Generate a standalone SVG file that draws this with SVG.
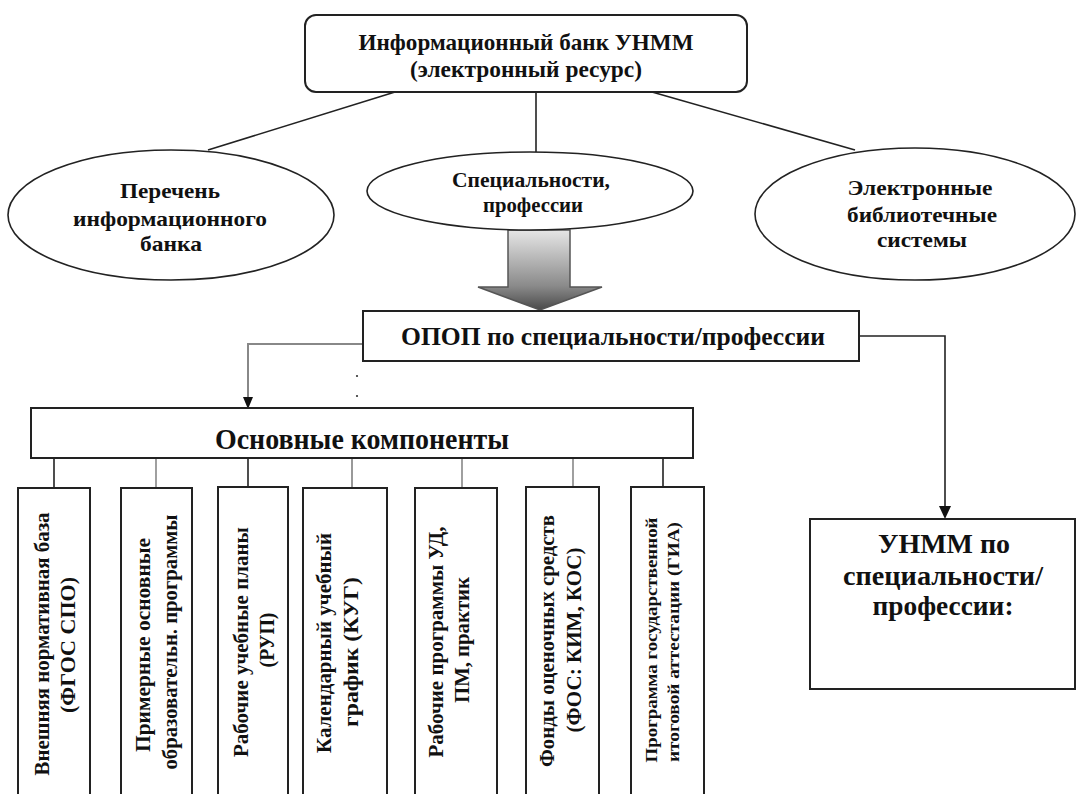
<svg xmlns="http://www.w3.org/2000/svg" width="1078" height="794" viewBox="0 0 1078 794">
<style>
text{font-family:"Liberation Serif","Times New Roman",serif;font-weight:bold;fill:#111;text-anchor:middle}
.box{fill:#fff;stroke:#222;stroke-width:2}
.ell{fill:#fff;stroke:#222;stroke-width:1.6}
.ln{fill:none;stroke:#222;stroke-width:1.6}
.gr{fill:none;stroke:#888;stroke-width:2}
.t22{font-size:22px}
.v{font-size:20px}
.v7{font-size:17px}
</style>
<defs>
<linearGradient id="ag" x1="0" y1="230" x2="0" y2="310" gradientUnits="userSpaceOnUse">
<stop offset="0" stop-color="#e6e6e6"/>
<stop offset="0.7" stop-color="#8a8a8a"/>
<stop offset="1" stop-color="#4a4a4a"/>
</linearGradient>
</defs>
<rect width="1078" height="794" fill="#fff"/>

<g id="connectors">
<line class="ln" x1="395" y1="92" x2="208" y2="150"/>
<line class="ln" x1="536" y1="92" x2="536" y2="152"/>
<line class="ln" x1="652" y1="92" x2="855" y2="150"/>
<path d="M508,230 H570 V287 H602 L540,310 L478,287 H508 Z" fill="url(#ag)" stroke="#555" stroke-width="1.5"/>
<path class="gr" d="M363,344 H248 V400"/>
<path d="M243,397 L253,397 L248,409 Z" fill="#111"/>
<path class="ln" d="M859,336 H945 V509"/>
<path d="M939,506 L951,506 L945,519 Z" fill="#111"/>
<line x1="54" y1="458" x2="54" y2="488" stroke="#222" stroke-width="1.6"/>
<line x1="156" y1="458" x2="156" y2="488" stroke="#888" stroke-width="1.6"/>
<line x1="248" y1="458" x2="248" y2="487" stroke="#222" stroke-width="1.6"/>
<line x1="352" y1="458" x2="352" y2="488" stroke="#999" stroke-width="2"/>
<line x1="462" y1="458" x2="462" y2="488" stroke="#888" stroke-width="1.6"/>
<line x1="573" y1="458" x2="573" y2="487" stroke="#888" stroke-width="1.6"/>
<line x1="663" y1="458" x2="663" y2="487" stroke="#222" stroke-width="1.6"/>
<circle cx="357" cy="376" r="1.1" fill="#333"/>
<circle cx="357" cy="396" r="1.1" fill="#333"/>
</g>

<g id="bank">
<rect class="box" x="305" y="15" width="442" height="77" rx="11" stroke="#333"/>
<text x="526" y="50" font-size="23" textLength="335" lengthAdjust="spacingAndGlyphs">Информационный банк УНММ</text>
<text x="526" y="77" font-size="23" textLength="232" lengthAdjust="spacingAndGlyphs">(электронный ресурс)</text>
</g>

<g id="perechen">
<ellipse class="ell" cx="171" cy="215" rx="163" ry="65"/>
<text class="t22" x="170" y="198" textLength="100" lengthAdjust="spacingAndGlyphs">Перечень</text>
<text class="t22" x="170" y="226" textLength="194" lengthAdjust="spacingAndGlyphs">информационного</text>
<text class="t22" x="171" y="251" textLength="62" lengthAdjust="spacingAndGlyphs">банка</text>
</g>

<g id="spec">
<ellipse class="ell" cx="530" cy="191" rx="163" ry="39"/>
<text class="t22" x="531" y="187" textLength="158" lengthAdjust="spacingAndGlyphs">Специальности,</text>
<text class="t22" x="533" y="212" textLength="100" lengthAdjust="spacingAndGlyphs">профессии</text>
</g>

<g id="ebs">
<ellipse class="ell" cx="915" cy="214" rx="160" ry="66"/>
<text class="t22" x="920" y="195" textLength="145" lengthAdjust="spacingAndGlyphs">Электронные</text>
<text class="t22" x="922" y="222" textLength="150" lengthAdjust="spacingAndGlyphs">библиотечные</text>
<text class="t22" x="922" y="247" textLength="90" lengthAdjust="spacingAndGlyphs">системы</text>
</g>

<g id="opop">
<rect class="box" x="363" y="311" width="496" height="50"/>
<text x="613" y="345" font-size="25" textLength="424" lengthAdjust="spacingAndGlyphs">ОПОП по специальности/профессии</text>
</g>

<g id="components">
<rect class="box" x="31" y="408" width="662" height="50"/>
<text x="362" y="449" font-size="29" textLength="294" lengthAdjust="spacingAndGlyphs">Основные компоненты</text>
</g>

<g id="unmm">
<rect class="box" x="810" y="519" width="265" height="170"/>
<text x="944" y="553" font-size="27" textLength="132" lengthAdjust="spacingAndGlyphs">УНММ по</text>
<text x="943" y="585" font-size="27" textLength="200" lengthAdjust="spacingAndGlyphs">специальности/</text>
<text x="943" y="615" font-size="27" textLength="141" lengthAdjust="spacingAndGlyphs">профессии:</text>
</g>

<g id="c1">
<rect class="box" x="18" y="488" width="72" height="312"/>
<text class="v" transform="translate(49,644) rotate(-90)" textLength="263" lengthAdjust="spacingAndGlyphs">Внешняя нормативная база</text>
<text class="v" transform="translate(75,645) rotate(-90)" textLength="136" lengthAdjust="spacingAndGlyphs">(ФГОС  СПО)</text>
</g>

<g id="c2">
<rect class="box" x="121" y="488" width="71" height="312"/>
<text class="v" transform="translate(150,645) rotate(-90)" textLength="214" lengthAdjust="spacingAndGlyphs">Примерные основные</text>
<text class="v" transform="translate(177,642) rotate(-90)" textLength="255" lengthAdjust="spacingAndGlyphs">образовательн. программы</text>
</g>

<g id="c3">
<rect class="box" x="218" y="487" width="70" height="313"/>
<text class="v" transform="translate(248,642) rotate(-90)" textLength="230" lengthAdjust="spacingAndGlyphs">Рабочие учебные планы</text>
<text class="v" transform="translate(274,640) rotate(-90)" textLength="55" lengthAdjust="spacingAndGlyphs">(РУП)</text>
</g>

<g id="c4">
<rect class="box" x="303" y="488" width="84" height="312"/>
<text class="v" transform="translate(331,643) rotate(-90)" textLength="220" lengthAdjust="spacingAndGlyphs">Календарный учебный</text>
<text class="v" transform="translate(358,652) rotate(-90)" textLength="150" lengthAdjust="spacingAndGlyphs">график (КУГ)</text>
</g>

<g id="c5">
<rect class="box" x="415" y="488" width="82" height="312"/>
<text class="v" transform="translate(443,642) rotate(-90)" textLength="231" lengthAdjust="spacingAndGlyphs">Рабочие программы УД,</text>
<text class="v" transform="translate(469,640) rotate(-90)" textLength="126" lengthAdjust="spacingAndGlyphs">ПМ, практик</text>
</g>

<g id="c6">
<rect class="box" x="526" y="487" width="73" height="313"/>
<text class="v" transform="translate(554,641) rotate(-90)" textLength="252" lengthAdjust="spacingAndGlyphs">Фонды оценочных средств</text>
<text class="v" transform="translate(581,640) rotate(-90)" textLength="185" lengthAdjust="spacingAndGlyphs">(ФОС: КИМ, КОС)</text>
</g>

<g id="c7">
<rect class="box" x="631" y="487" width="73" height="313"/>
<text class="v7" transform="translate(657,640) rotate(-90)" textLength="245" lengthAdjust="spacingAndGlyphs">Программа  государственной</text>
<text class="v7" transform="translate(679,642) rotate(-90)" textLength="240" lengthAdjust="spacingAndGlyphs">итоговой  аттестации (ГИА)</text>
</g>
</svg>
